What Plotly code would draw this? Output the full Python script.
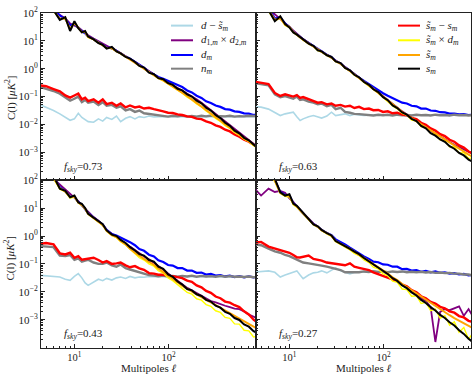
import plotly.graph_objects as go

W, H = 474, 374

# multipoles (x values shared by every curve)
ell = [4, 5, 6, 7, 8, 9, 10, 11, 12, 13,
       14, 16, 18, 20, 22, 25, 28, 31, 35, 39,
       44, 49, 55, 62, 70, 78, 88, 99, 111, 125,
       140, 158, 177, 199, 224, 251, 282, 317, 356, 400,
       449, 504, 566, 636, 714, 802, 880]

# ---- values are log10 C(l) [muK^2] ----
# panel f_sky = 0.73 (top left)
tl_dres = [-1.25, -1.38, -1.50, -1.62, -1.75, -1.85, -1.80, -1.60, -1.75, -1.82,
           -1.90, -1.92, -1.80, -1.88, -1.75, -1.82, -1.70, -1.90, -1.78, -1.72,
           -1.80, -1.72, -1.75, -1.70, -1.73, -1.72, -1.72, -1.73, -1.72, -1.72,
           -1.72, -1.72, -1.72, -1.72, -1.72, -1.72, -1.72, -1.72, -1.72, -1.72,
           -1.72, -1.72, -1.72, -1.72, -1.72, -1.72, -1.72]
tl_cross12 = [2.50, 2.30, 2.08, 1.92, 1.80, 1.62, 1.55, 1.48, 1.38, 1.28,
              1.20, 1.08, 0.98, 0.88, 0.80, 0.72, 0.65, 0.55, 0.45, 0.35,
              0.25, 0.14, 0.03, -0.10, -0.21, -0.31, -0.40, -0.49, -0.59, -0.69,
              -0.79, -0.89, -0.99, -1.10, -1.22, -1.35, -1.48, -1.61, -1.75, -1.89,
              -2.03, -2.17, -2.30, -2.43, -2.55, -2.68, -2.80]
tl_dm = [2.55, 2.35, 2.12, 1.90, 1.78, 1.55, 1.60, 1.47, 1.34, 1.27,
         1.15, 1.06, 0.95, 0.86, 0.76, 0.74, 0.63, 0.56, 0.44, 0.36,
         0.25, 0.13, 0.03, -0.11, -0.21, -0.30, -0.36, -0.44, -0.51, -0.58,
         -0.66, -0.78, -0.85, -0.97, -1.05, -1.17, -1.23, -1.32, -1.37, -1.45,
         -1.47, -1.53, -1.55, -1.60, -1.61, -1.66, -1.66]
tl_nm = [-0.62, -0.72, -0.80, -0.90, -1.05, -1.15, -1.08, -1.00, -1.20, -1.12,
         -1.22, -1.18, -1.30, -1.20, -1.33, -1.30, -1.40, -1.35, -1.50, -1.45,
         -1.55, -1.50, -1.60, -1.62, -1.66, -1.68, -1.69, -1.72, -1.69, -1.71,
         -1.68, -1.72, -1.70, -1.72, -1.69, -1.71, -1.68, -1.72, -1.70, -1.71,
         -1.69, -1.72, -1.70, -1.71, -1.69, -1.71, -1.70]
tl_serr = [-0.58, -0.63, -0.73, -0.81, -0.96, -1.04, -0.96, -0.89, -1.10, -1.04,
           -1.16, -1.10, -1.22, -1.10, -1.27, -1.22, -1.33, -1.25, -1.39, -1.32,
           -1.39, -1.36, -1.43, -1.40, -1.45, -1.50, -1.53, -1.58, -1.59, -1.64,
           -1.66, -1.71, -1.73, -1.79, -1.81, -1.89, -1.94, -2.03, -2.09, -2.19,
           -2.25, -2.36, -2.44, -2.55, -2.62, -2.73, -2.80]
tl_scross = [2.50, 2.30, 2.05, 1.80, 1.78, 1.45, 1.62, 1.44, 1.30, 1.30,
             1.12, 1.04, 0.93, 0.84, 0.74, 0.72, 0.61, 0.54, 0.42, 0.34,
             0.22, 0.10, 0.00, -0.14, -0.24, -0.35, -0.44, -0.55, -0.65, -0.77,
             -0.88, -1.02, -1.12, -1.26, -1.37, -1.52, -1.63, -1.78, -1.89, -2.04,
             -2.14, -2.29, -2.39, -2.53, -2.62, -2.76, -2.85]
tl_stilde = [2.55, 2.35, 2.10, 1.78, 1.82, 1.40, 1.65, 1.45, 1.31, 1.32,
             1.14, 1.05, 0.94, 0.85, 0.75, 0.74, 0.62, 0.55, 0.43, 0.35,
             0.23, 0.11, 0.01, -0.13, -0.23, -0.34, -0.42, -0.53, -0.63, -0.74,
             -0.86, -0.98, -1.10, -1.22, -1.35, -1.48, -1.61, -1.74, -1.87, -2.00,
             -2.12, -2.25, -2.37, -2.49, -2.60, -2.72, -2.83]
tl_sm = [2.60, 2.40, 2.10, 1.75, 1.85, 1.35, 1.70, 1.45, 1.30, 1.35,
         1.15, 1.05, 0.92, 0.85, 0.72, 0.78, 0.62, 0.55, 0.42, 0.36,
         0.24, 0.10, 0.04, -0.14, -0.20, -0.34, -0.38, -0.52, -0.58, -0.72,
         -0.78, -0.92, -1.00, -1.15, -1.24, -1.40, -1.50, -1.66, -1.77, -1.94,
         -2.05, -2.22, -2.32, -2.48, -2.57, -2.74, -2.84]

# panel f_sky = 0.63 (top right)
tr_dres = [-1.35, -1.38, -1.45, -1.58, -1.68, -1.62, -1.58, -1.56, -1.72, -1.86,
           -1.80, -1.72, -1.68, -1.72, -1.77, -1.70, -1.56, -1.68, -1.64, -1.62,
           -1.68, -1.63, -1.66, -1.68, -1.67, -1.67, -1.67, -1.67, -1.67, -1.67,
           -1.67, -1.67, -1.67, -1.67, -1.67, -1.67, -1.67, -1.67, -1.67, -1.67,
           -1.67, -1.67, -1.67, -1.67, -1.67, -1.67, -1.67]
tr_cross12 = [2.60, 2.40, 2.15, 1.95, 1.80, 1.65, 1.52, 1.38, 1.26, 1.15,
              1.06, 0.93, 0.81, 0.69, 0.60, 0.50, 0.40, 0.29, 0.18, 0.06,
              -0.07, -0.19, -0.32, -0.45, -0.58, -0.71, -0.85, -0.99, -1.13, -1.28,
              -1.41, -1.53, -1.64, -1.75, -1.86, -1.98, -2.10, -2.22, -2.33, -2.43,
              -2.53, -2.63, -2.73, -2.82, -2.91, -2.99, -3.05]
tr_dm = [2.65, 2.45, 2.18, 1.80, 1.84, 1.62, 1.50, 1.33, 1.23, 1.13,
         1.05, 0.92, 0.81, 0.68, 0.61, 0.50, 0.41, 0.28, 0.19, 0.05,
         -0.07, -0.20, -0.32, -0.44, -0.56, -0.66, -0.78, -0.88, -0.97, -1.05,
         -1.12, -1.22, -1.25, -1.33, -1.35, -1.43, -1.43, -1.50, -1.51, -1.56,
         -1.57, -1.61, -1.61, -1.64, -1.63, -1.66, -1.65]
tr_nm = [-0.50, -0.55, -0.60, -0.92, -1.02, -0.98, -1.02, -1.08, -1.00, -1.12,
         -1.10, -1.18, -1.22, -1.28, -1.25, -1.35, -1.30, -1.45, -1.40, -1.55,
         -1.58, -1.62, -1.63, -1.65, -1.66, -1.68, -1.65, -1.67, -1.65, -1.68,
         -1.65, -1.67, -1.66, -1.68, -1.65, -1.67, -1.66, -1.68, -1.65, -1.67,
         -1.66, -1.68, -1.65, -1.67, -1.66, -1.68, -1.66]
tr_serr = [-0.45, -0.50, -0.55, -0.87, -0.98, -0.92, -0.96, -1.00, -0.95, -1.05,
           -1.02, -1.10, -1.15, -1.22, -1.20, -1.28, -1.25, -1.33, -1.30, -1.36,
           -1.33, -1.41, -1.37, -1.45, -1.43, -1.49, -1.48, -1.55, -1.53, -1.60,
           -1.58, -1.65, -1.67, -1.77, -1.81, -1.94, -2.01, -2.14, -2.22, -2.35,
           -2.42, -2.55, -2.62, -2.75, -2.83, -2.97, -3.03]
tr_scross = [2.60, 2.40, 2.05, 1.72, 1.80, 1.55, 1.47, 1.30, 1.20, 1.10,
             1.02, 0.89, 0.79, 0.65, 0.59, 0.47, 0.39, 0.25, 0.17, 0.02,
             -0.09, -0.23, -0.34, -0.49, -0.62, -0.76, -0.88, -1.03, -1.17, -1.34,
             -1.44, -1.60, -1.66, -1.84, -1.88, -2.08, -2.12, -2.32, -2.34, -2.55,
             -2.57, -2.80, -2.80, -3.02, -3.01, -3.22, -3.20]
tr_stilde = [2.65, 2.42, 2.12, 1.75, 1.82, 1.58, 1.50, 1.32, 1.22, 1.12,
             1.04, 0.91, 0.80, 0.67, 0.60, 0.49, 0.40, 0.27, 0.18, 0.04,
             -0.08, -0.21, -0.33, -0.47, -0.60, -0.73, -0.86, -1.00, -1.14, -1.30,
             -1.42, -1.55, -1.66, -1.77, -1.88, -2.00, -2.11, -2.22, -2.33, -2.44,
             -2.55, -2.66, -2.77, -2.88, -2.98, -3.08, -3.15]
tr_sm = [2.70, 2.45, 2.10, 1.70, 1.88, 1.60, 1.48, 1.30, 1.22, 1.12,
         1.05, 0.90, 0.82, 0.66, 0.62, 0.48, 0.42, 0.26, 0.20, 0.03,
         -0.06, -0.22, -0.31, -0.48, -0.58, -0.74, -0.84, -1.02, -1.13, -1.32,
         -1.41, -1.57, -1.65, -1.80, -1.88, -2.05, -2.14, -2.31, -2.40, -2.54,
         -2.62, -2.78, -2.87, -3.02, -3.11, -3.26, -3.33]

# panel f_sky = 0.43 (bottom left)
bl_dres = [-1.40, -1.42, -1.45, -1.47, -1.55, -1.59, -1.45, -1.35, -1.50, -1.68,
           -1.77, -1.65, -1.55, -1.60, -1.52, -1.58, -1.50, -1.47, -1.52, -1.45,
           -1.50, -1.47, -1.48, -1.45, -1.45, -1.45, -1.45, -1.45, -1.45, -1.45,
           -1.45, -1.45, -1.45, -1.45, -1.45, -1.45, -1.45, -1.45, -1.45, -1.45,
           -1.45, -1.46, -1.46, -1.46, -1.46, -1.47, -1.47]
bl_cross12 = [2.50, 2.30, 2.05, 1.85, 1.65, 1.50, 1.38, 1.25, 1.10, 0.98,
              0.85, 0.68, 0.55, 0.40, 0.22, 0.08, -0.02, -0.13, -0.26, -0.38,
              -0.50, -0.62, -0.73, -0.83, -0.95, -1.07, -1.20, -1.34, -1.47, -1.60,
              -1.74, -1.86, -1.95, -2.05, -2.14, -2.24, -2.33, -2.38, -2.45, -2.50,
              -2.55, -2.60, -2.62, -2.70, -2.82, -2.90, -2.95]
bl_dm = [2.55, 2.40, 2.10, 1.75, 1.60, 1.42, 1.40, 1.22, 1.12, 0.98,
         0.82, 0.66, 0.53, 0.41, 0.22, 0.07, 0.02, -0.05, -0.15, -0.22,
         -0.33, -0.47, -0.53, -0.67, -0.73, -0.87, -0.93, -1.04, -1.06, -1.15,
         -1.15, -1.24, -1.24, -1.32, -1.31, -1.38, -1.36, -1.42, -1.40, -1.45,
         -1.42, -1.47, -1.44, -1.48, -1.45, -1.48, -1.46]
bl_nm = [-0.35, -0.38, -0.40, -0.70, -0.72, -0.68, -0.85, -0.80, -0.92, -0.88,
         -0.85, -0.95, -1.00, -1.00, -0.95, -1.05, -1.10, -1.02, -1.15, -1.20,
         -1.25, -1.30, -1.35, -1.40, -1.42, -1.44, -1.42, -1.45, -1.43, -1.46,
         -1.43, -1.45, -1.42, -1.46, -1.43, -1.45, -1.44, -1.46, -1.43, -1.46,
         -1.44, -1.46, -1.45, -1.47, -1.45, -1.48, -1.47]
bl_serr = [-0.30, -0.25, -0.30, -0.62, -0.66, -0.60, -0.78, -0.72, -0.85, -0.83,
           -0.80, -0.78, -0.86, -0.95, -0.90, -1.00, -0.98, -0.95, -1.05, -1.12,
           -1.08, -1.16, -1.21, -1.33, -1.35, -1.39, -1.39, -1.43, -1.44, -1.49,
           -1.51, -1.60, -1.64, -1.77, -1.84, -1.97, -2.04, -2.17, -2.23, -2.35,
           -2.39, -2.48, -2.55, -2.70, -2.81, -3.00, -3.10]
bl_scross = [2.50, 2.38, 2.05, 1.68, 1.58, 1.36, 1.40, 1.18, 1.10, 0.96,
             0.78, 0.62, 0.49, 0.38, 0.17, 0.01, -0.06, -0.20, -0.32, -0.48,
             -0.64, -0.78, -0.86, -1.00, -1.08, -1.24, -1.33, -1.50, -1.60, -1.76,
             -1.88, -2.02, -2.08, -2.25, -2.30, -2.46, -2.52, -2.68, -2.74, -2.92,
             -2.95, -3.15, -3.16, -3.38, -3.40, -3.62, -3.60]
bl_stilde = [2.55, 2.40, 2.10, 1.72, 1.60, 1.40, 1.42, 1.20, 1.12, 0.98,
             0.80, 0.64, 0.51, 0.40, 0.19, 0.03, -0.04, -0.18, -0.30, -0.46,
             -0.60, -0.72, -0.82, -0.93, -1.03, -1.16, -1.28, -1.42, -1.54, -1.66,
             -1.79, -1.90, -1.99, -2.09, -2.19, -2.29, -2.38, -2.48, -2.58, -2.68,
             -2.77, -2.86, -2.95, -3.05, -3.15, -3.25, -3.32]
bl_sm = [2.60, 2.45, 2.15, 1.70, 1.62, 1.39, 1.45, 1.20, 1.15, 1.00,
         0.80, 0.65, 0.52, 0.42, 0.20, 0.05, 0.00, -0.14, -0.25, -0.40,
         -0.52, -0.65, -0.70, -0.86, -0.92, -1.10, -1.18, -1.38, -1.46, -1.63,
         -1.74, -1.90, -1.95, -2.09, -2.15, -2.29, -2.35, -2.50, -2.57, -2.72,
         -2.79, -2.94, -3.01, -3.17, -3.25, -3.41, -3.48]

# panel f_sky = 0.27 (bottom right)
br_dres = [-1.30, -1.28, -1.25, -1.30, -1.47, -1.40, -1.35, -1.30, -1.25, -1.40,
           -1.53, -1.40, -1.32, -1.30, -1.25, -1.32, -1.22, -1.14, -1.25, -1.30,
           -1.36, -1.31, -1.30, -1.28, -1.28, -1.28, -1.28, -1.28, -1.28, -1.28,
           -1.29, -1.29, -1.29, -1.29, -1.29, -1.29, -1.30, -1.30, -1.31, -1.31,
           -1.33, -1.33, -1.35, -1.36, -1.38, -1.39, -1.41]
br_cross12 = [1.80, 1.45, 1.70, 1.58, 1.62, 1.55, 1.35, 1.22, 1.06, 0.93,
              0.80, 0.63, 0.45, 0.33, 0.21, 0.11, 0.00, -0.15, -0.26, -0.37,
              -0.47, -0.55, -0.66, -0.78, -0.90, -1.02, -1.14, -1.25, -1.37, -1.49,
              -1.60, -1.74, -1.86, -1.98, -2.10, -2.22, -2.34, -2.55, -3.80, -2.72,
              -2.62, -2.66, -2.58, -2.52, -2.86, -2.62, -2.85]
br_dm = [2.75, 2.55, 2.30, 2.00, 1.58, 1.47, 1.45, 1.18, 1.06, 0.94,
         0.82, 0.64, 0.43, 0.34, 0.22, 0.11, 0.03, -0.12, -0.20, -0.30,
         -0.42, -0.52, -0.60, -0.73, -0.82, -0.92, -0.94, -1.02, -1.03, -1.10,
         -1.10, -1.19, -1.18, -1.24, -1.22, -1.28, -1.25, -1.30, -1.27, -1.32,
         -1.30, -1.35, -1.33, -1.38, -1.36, -1.41, -1.40]
br_nm = [-0.28, -0.33, -0.45, -0.55, -0.60, -0.68, -0.72, -0.78, -0.85, -0.90,
         -0.95, -0.98, -1.00, -1.04, -1.06, -1.10, -1.14, -1.18, -1.22, -1.30,
         -1.30, -1.28, -1.30, -1.27, -1.29, -1.26, -1.29, -1.27, -1.30, -1.27,
         -1.29, -1.27, -1.30, -1.28, -1.30, -1.28, -1.31, -1.29, -1.32, -1.31,
         -1.33, -1.32, -1.35, -1.35, -1.38, -1.38, -1.41]
br_serr = [-0.25, -0.21, -0.38, -0.45, -0.50, -0.55, -0.60, -0.68, -0.76, -0.77,
           -0.74, -0.70, -0.82, -0.84, -0.88, -0.95, -0.97, -1.00, -1.03, -1.05,
           -0.98, -1.10, -1.14, -1.18, -1.22, -1.30, -1.37, -1.44, -1.50, -1.57,
           -1.62, -1.74, -1.80, -1.94, -2.02, -2.16, -2.23, -2.36, -2.42, -2.54,
           -2.59, -2.70, -2.75, -2.87, -2.92, -3.04, -3.08]
br_scross = [2.70, 2.50, 2.25, 1.95, 1.52, 1.42, 1.40, 1.12, 1.03, 0.91,
             0.79, 0.61, 0.40, 0.32, 0.19, 0.08, -0.01, -0.20, -0.29, -0.40,
             -0.50, -0.62, -0.70, -0.86, -0.95, -1.12, -1.18, -1.36, -1.42, -1.62,
             -1.66, -1.90, -1.92, -2.16, -2.14, -2.42, -2.38, -2.68, -2.62, -2.95,
             -2.85, -3.20, -3.08, -3.45, -3.28, -3.70, -3.50]
br_stilde = [2.75, 2.55, 2.30, 2.00, 1.55, 1.45, 1.45, 1.15, 1.06, 0.94,
             0.82, 0.63, 0.42, 0.34, 0.21, 0.10, 0.01, -0.18, -0.27, -0.38,
             -0.46, -0.56, -0.66, -0.78, -0.90, -1.01, -1.12, -1.24, -1.35, -1.48,
             -1.58, -1.72, -1.83, -1.95, -2.06, -2.19, -2.30, -2.42, -2.53, -2.64,
             -2.74, -2.84, -2.94, -3.04, -3.13, -3.22, -3.29]
br_sm = [2.80, 2.60, 2.35, 2.05, 1.57, 1.45, 1.50, 1.16, 1.08, 0.95,
         0.83, 0.65, 0.42, 0.35, 0.22, 0.10, 0.02, -0.18, -0.27, -0.38,
         -0.46, -0.56, -0.65, -0.79, -0.91, -1.03, -1.13, -1.26, -1.36, -1.51,
         -1.61, -1.77, -1.87, -2.02, -2.13, -2.29, -2.40, -2.55, -2.67, -2.83,
         -2.94, -3.09, -3.21, -3.38, -3.51, -3.68, -3.79]

fsky_labels = ["0.73", "0.63", "0.43", "0.27"]

series_names = [
    "<i>d</i> − <i>s\u0303</i><sub><i>m</i></sub>",
    "<i>d</i><sub>1,<i>m</i></sub> × <i>d</i><sub>2,<i>m</i></sub>",
    "<i>d</i><sub><i>m</i></sub>",
    "<i>n</i><sub><i>m</i></sub>",
    "<i>s\u0303</i><sub><i>m</i></sub> − <i>s</i><sub><i>m</i></sub>",
    "<i>s\u0303</i><sub><i>m</i></sub> × <i>d</i><sub><i>m</i></sub>",
    "<i>s\u0303</i><sub><i>m</i></sub>",
    "<i>s</i><sub><i>m</i></sub>",
]
series_colors = ["#add8e6", "#800080", "#0000ff", "#808080",
                 "#ff0000", "#ffff00", "#ffa500", "#000000"]
series_widths = [1.6, 1.8, 2.2, 2.4, 2.4, 1.4, 2.0, 2.0]

panels = [
    ("x", "y", [tl_dres, tl_cross12, tl_dm, tl_nm, tl_serr, tl_scross, tl_stilde, tl_sm]),
    ("x2", "y2", [tr_dres, tr_cross12, tr_dm, tr_nm, tr_serr, tr_scross, tr_stilde, tr_sm]),
    ("x3", "y3", [bl_dres, bl_cross12, bl_dm, bl_nm, bl_serr, bl_scross, bl_stilde, bl_sm]),
    ("x4", "y4", [br_dres, br_cross12, br_dm, br_nm, br_serr, br_scross, br_stilde, br_sm]),
]

fig = go.Figure()
for xa, ya, curves in panels:
    for name, color, width, logc in zip(series_names, series_colors, series_widths, curves):
        fig.add_trace(go.Scatter(
            x=ell, y=[10 ** v for v in logc], mode="lines", name=name,
            line=dict(color=color, width=width), xaxis=xa, yaxis=ya,
            showlegend=False, hoverinfo="skip"))

FONT = "Liberation Serif, DejaVu Serif, serif"
INK = "#222222"

xleft = [41 / W, 256 / W]
xright = [256 / W, 471 / W]
ytop = [1 - 176 / H, 1 - 5 / H]
ybot = [1 - 347 / H, 1 - 176 / H]

x_minor = [5, 6, 7, 8, 9, 20, 30, 40, 50, 60, 70, 80, 90, 200, 300, 400, 500, 600, 700, 800]
y_minor = [m * 10.0 ** e for e in range(-4, 2) for m in range(2, 10)]
y_major = [1e-3, 1e-2, 1e-1, 1, 10, 100]
y_major_txt = ["10<sup>−3</sup>", "10<sup>−2</sup>", "10<sup>−1</sup>",
               "10<sup>0</sup>", "10<sup>1</sup>", "10<sup>2</sup>"]


def xax(domain, anchor, labels):
    return dict(type="log", range=[0.645, 2.93], domain=domain, anchor=anchor,
                showline=True, linecolor=INK, linewidth=1, mirror=True,
                ticks="inside", ticklen=4, tickcolor=INK, tickwidth=1,
                tickmode="array", tickvals=[10, 100],
                ticktext=["10<sup>1</sup>", "10<sup>2</sup>"],
                showticklabels=labels, showgrid=False, zeroline=False,
                minor=dict(tickmode="array", tickvals=x_minor, ticks="inside",
                           ticklen=2, tickcolor=INK, showgrid=False),
                tickfont=dict(size=10.5, color=INK, family=FONT))


def yax(domain, anchor, labels):
    return dict(type="log", range=[-4, 2], domain=domain, anchor=anchor,
                showline=True, linecolor=INK, linewidth=1, mirror=True,
                ticks="inside", ticklen=4, tickcolor=INK, tickwidth=1,
                tickmode="array", tickvals=y_major, ticktext=y_major_txt,
                showticklabels=labels, showgrid=False, zeroline=False,
                minor=dict(tickmode="array", tickvals=y_minor, ticks="inside",
                           ticklen=2, tickcolor=INK, showgrid=False),
                tickfont=dict(size=11, color=INK, family=FONT))


tfont = dict(size=11, color=INK, family=FONT)
annotations = []
for (xa, ya, _), fs in zip(panels, fsky_labels):
    annotations.append(dict(
        text="<i>f</i><sub><i>sky</i></sub>=" + fs, xref=xa + " domain", yref=ya + " domain",
        x=0.098, y=0.08, xanchor="left", yanchor="middle", showarrow=False, font=tfont))

# axis titles
for yc in (92, 256):
    annotations.append(dict(text="C(l) [<i>μK</i><sup>2</sup>]", textangle=-90,
                            xref="paper", yref="paper", x=10 / W, y=1 - yc / H,
                            xanchor="center", yanchor="middle", showarrow=False, font=tfont))
for xc in (148.5, 363.5):
    annotations.append(dict(text="Multipoles <i>ℓ</i>", xref="paper", yref="paper",
                            x=xc / W, y=1 - 367.5 / H, xanchor="center", yanchor="middle",
                            showarrow=False, font=tfont))

# legend keys split over the two top panels, as in the original
shapes = []
rows = [18, 33, 48, 62]
legend_blocks = [(171, 193, 199, range(0, 4)), (398, 420, 424, range(4, 8))]
for x0, x1, xt, idxs in legend_blocks:
    for r, i in zip(rows, idxs):
        shapes.append(dict(type="line", xref="paper", yref="paper",
                           x0=x0 / W, x1=x1 / W, y0=1 - r / H, y1=1 - r / H,
                           line=dict(color=series_colors[i], width=2)))
        annotations.append(dict(text=series_names[i], xref="paper", yref="paper",
                                x=xt / W, y=1 - r / H, xanchor="left", yanchor="middle",
                                showarrow=False, font=tfont))

fig.update_layout(
    width=W, height=H, margin=dict(l=0, r=0, t=0, b=0),
    paper_bgcolor="white", plot_bgcolor="white", showlegend=False,
    font=dict(family=FONT, size=11, color=INK),
    xaxis=xax(xleft, "y", False), yaxis=yax(ytop, "x", True),
    xaxis2=xax(xright, "y2", False), yaxis2=yax(ytop, "x2", False),
    xaxis3=xax(xleft, "y3", True), yaxis3=yax(ybot, "x3", True),
    xaxis4=xax(xright, "y4", True), yaxis4=yax(ybot, "x4", False),
    annotations=annotations, shapes=shapes,
)

# the page's default 8px body margin would shift the 474x374 figure out of the window
fig.write_html("out.html", post_script="document.body.style.margin='0';",
               config={"displayModeBar": False})
